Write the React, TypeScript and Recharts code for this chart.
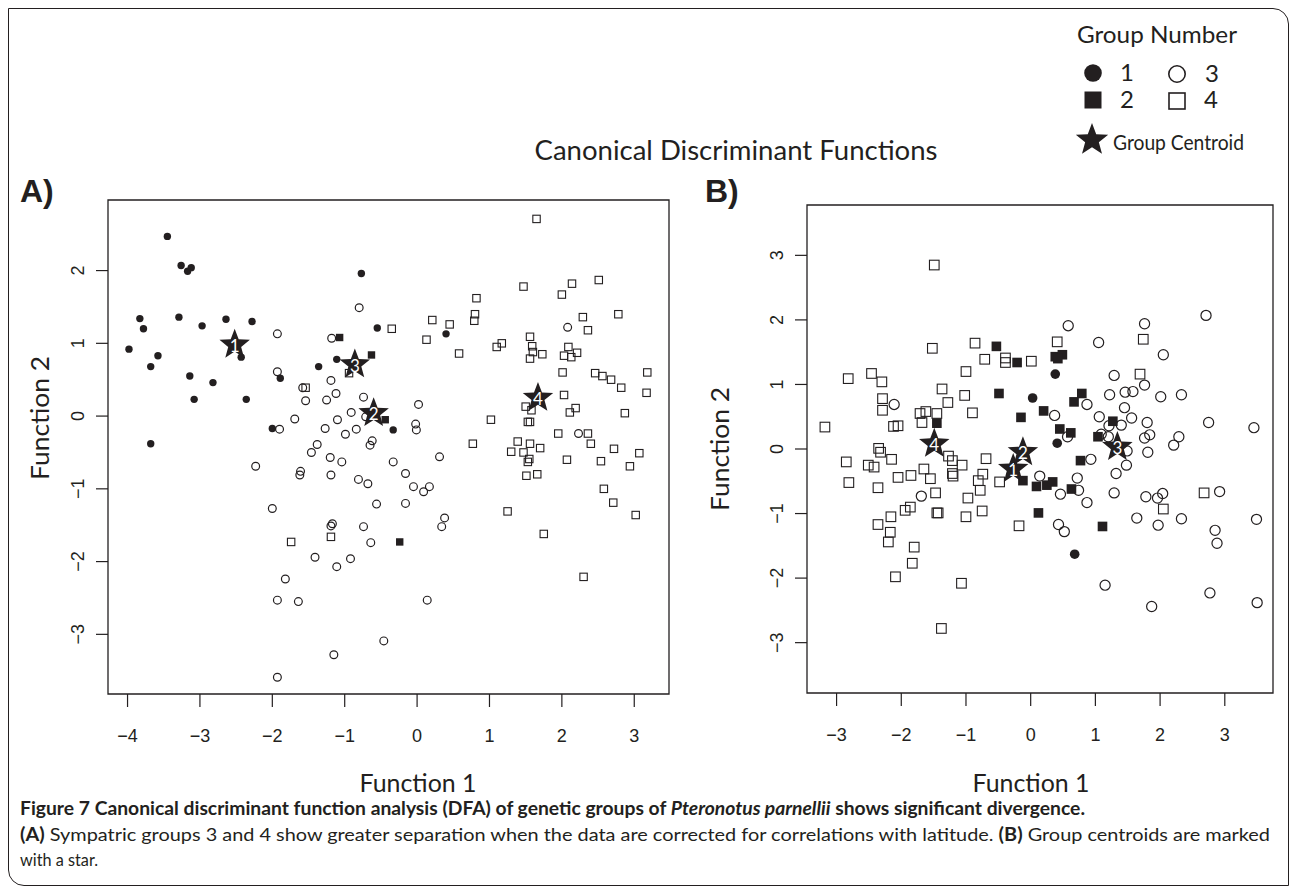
import { ScatterChart, Scatter, XAxis, YAxis, ReferenceArea } from 'recharts'

const INK = '#231f20'
const TICK_FONT = '"Liberation Sans", Arial, Helvetica, sans-serif'
const LABEL_FONT = 'Lato, "Open Sans", sans-serif'

type Pt = [number, number]
type Star = [number, number, string]

// ---- panel A (corrected for latitude) ----
const aTicksX = [-4, -3, -2, -1, 0, 1, 2, 3]
const aTicksY = [-3, -2, -1, 0, 1, 2]

const aGroup1: Pt[] = [
  [-3.45, 2.47], [-3.26, 2.07], [-3.17, 1.99], [-3.12, 2.04], [-3.83, 1.34], [-3.78, 1.2],
  [-3.98, 0.92], [-3.58, 0.83], [-3.68, 0.68], [-3.29, 1.36], [-2.97, 1.24], [-2.64, 1.33],
  [-2.28, 1.3], [-2.43, 0.81], [-3.14, 0.55], [-2.82, 0.46], [-3.08, 0.23], [-2.36, 0.23],
  [-1.89, 0.52], [-1.36, 0.68], [-1.11, 0.78], [-0.77, 1.96], [-0.55, 1.21], [-2.0, -0.17],
  [-3.68, -0.38], [0.4, 1.13], [-0.33, -0.19],
]

const aGroup2: Pt[] = [[-1.07, 1.08], [-0.63, 0.84], [-0.44, -0.05], [-0.24, -1.73]]

const aGroup3: Pt[] = [
  [-1.93, 1.13], [-0.8, 1.49], [-1.18, 1.07], [-1.93, 0.61], [-1.19, 0.49], [-1.58, 0.39],
  [-1.12, 0.31], [-1.54, 0.21], [-1.25, 0.22], [-0.74, 0.26], [-0.91, 0.05], [-1.1, -0.05],
  [-1.69, -0.04], [-1.27, -0.17], [-1.9, -0.18], [-0.99, -0.25], [-0.84, -0.18], [-0.71, -0.01],
  [-0.62, -0.34], [-0.65, -0.4], [-1.38, -0.39], [-1.46, -0.5], [-1.2, -0.57], [-1.04, -0.63],
  [-2.23, -0.69], [-1.61, -0.76], [-1.62, -0.81], [-1.19, -0.81], [-0.81, -0.87], [-0.68, -0.93],
  [-0.56, -1.21], [-2.0, -1.27], [-1.17, -1.48], [-1.19, -1.51], [-0.74, -1.52], [-0.64, -1.74],
  [-1.41, -1.94], [-1.11, -2.07], [-0.92, -1.96], [-1.82, -2.24], [-1.93, -2.53], [-1.64, -2.55],
  [-0.46, -3.09], [-1.15, -3.28], [-1.93, -3.59], [0.02, 0.16], [-0.02, -0.11], [-0.01, -0.19],
  [2.08, 1.22], [2.23, -0.24], [-0.33, -0.63], [0.31, -0.56], [-0.16, -0.79], [-0.05, -0.97],
  [0.17, -0.97], [0.09, -1.04], [-0.16, -1.2], [0.38, -1.4], [0.34, -1.52], [0.14, -2.53],
]

const aGroup4: Pt[] = [
  [-1.54, 0.39], [-0.94, 0.59], [-1.74, -1.73], [-1.19, -1.66], [1.65, 2.71], [-0.35, 1.2],
  [0.21, 1.32], [0.45, 1.26], [0.13, 1.05], [0.58, 0.86], [0.82, 1.62], [0.8, 1.4], [0.79, 1.31],
  [1.47, 1.78], [2.14, 1.82], [2.0, 1.67], [2.51, 1.87], [2.29, 1.36], [2.78, 1.4], [2.36, 1.18],
  [1.17, 1.0], [1.1, 0.95], [1.56, 1.09], [1.59, 0.96], [1.73, 0.85], [1.56, 0.79], [1.6, 0.88],
  [2.09, 0.95], [2.21, 0.87], [2.13, 0.81], [2.03, 0.83], [2.01, 0.6], [2.46, 0.59], [2.56, 0.55],
  [2.68, 0.5], [2.82, 0.39], [3.18, 0.6], [3.17, 0.32], [2.03, 0.29], [2.19, 0.11], [2.11, 0.05],
  [2.87, 0.04], [1.5, 0.13], [1.58, 0.08], [1.02, -0.05], [1.53, -0.08], [1.56, -0.08],
  [1.95, -0.24], [2.36, -0.24], [2.4, -0.38], [2.72, -0.45], [3.07, -0.51], [2.94, -0.69],
  [2.54, -0.62], [2.07, -0.6], [0.77, -0.38], [1.39, -0.35], [1.56, -0.38], [1.7, -0.44],
  [1.3, -0.49], [1.47, -0.5], [1.55, -0.59], [1.53, -0.63], [1.51, -0.82], [1.66, -0.8],
  [2.58, -1.0], [2.71, -1.19], [3.02, -1.36], [1.25, -1.31], [1.75, -1.62], [2.3, -2.21],
]

const aCentroids: Star[] = [[-2.52, 0.98, '1'], [-0.6, 0.04, '2'], [-0.86, 0.71, '3'], [1.67, 0.25, '4']]

// ---- panel B ----
const bTicksX = [-3, -2, -1, 0, 1, 2, 3]
const bTicksY = [-3, -2, -1, 0, 1, 2, 3]

const bGroup1: Pt[] = [[0.03, 0.79], [0.38, 1.16], [0.41, 0.09], [0.68, -1.63]]

const bGroup2: Pt[] = [
  [-0.53, 1.59], [-0.21, 1.34], [-0.49, 0.86], [-0.15, 0.49], [-1.45, 0.4], [-0.12, -0.49],
  [0.09, -0.58], [0.12, -0.99], [0.38, 1.43], [0.49, 1.46], [0.42, 1.4], [0.79, 0.86], [0.67, 0.73],
  [0.2, 0.59], [1.27, 0.43], [0.45, 0.31], [0.62, 0.25], [1.04, 0.19], [0.77, -0.18], [0.25, -0.56],
  [0.34, -0.51], [0.63, -0.62], [1.11, -1.2],
]

const bGroup3: Pt[] = [
  [-2.11, 0.69], [-1.69, -0.73], [0.58, 1.91], [1.76, 1.94], [2.71, 2.07], [1.05, 1.65], [2.05, 1.46],
  [1.29, 1.14], [1.76, 0.99], [1.22, 0.84], [1.46, 0.88], [1.58, 0.89], [2.01, 0.81], [2.33, 0.84],
  [0.87, 0.69], [1.45, 0.64], [0.37, 0.52], [1.06, 0.5], [1.56, 0.48], [1.4, 0.37], [1.21, 0.36],
  [1.8, 0.41], [2.75, 0.41], [3.45, 0.33], [1.09, 0.23], [1.2, 0.19], [1.76, 0.17], [1.84, 0.22],
  [2.29, 0.19], [2.21, 0.06], [1.81, -0.05], [1.49, -0.03], [1.48, -0.25], [1.32, -0.38],
  [0.93, -0.16], [0.72, -0.45], [0.74, -0.64], [0.14, -0.42], [0.46, -0.7], [0.87, -0.83],
  [1.29, -0.68], [1.78, -0.74], [1.96, -0.76], [2.04, -0.69], [2.92, -0.66], [1.64, -1.07],
  [1.97, -1.18], [2.33, -1.08], [3.49, -1.09], [2.85, -1.26], [2.88, -1.46], [0.43, -1.17],
  [0.52, -1.28], [1.15, -2.11], [1.87, -2.44], [2.77, -2.23], [3.5, -2.38], [0.57, 0.19],
]

const bGroup4: Pt[] = [
  [-1.49, 2.85], [-1.52, 1.56], [-0.86, 1.64], [-0.71, 1.39], [-0.39, 1.41], [-0.39, 1.34],
  [0.01, 1.36], [-1.0, 1.2], [-2.82, 1.09], [-2.46, 1.17], [-2.3, 1.04], [-1.37, 0.93], [-1.02, 0.83],
  [-2.29, 0.78], [-2.29, 0.6], [-1.28, 0.72], [-0.9, 0.56], [-1.71, 0.55], [-1.62, 0.58],
  [-1.45, 0.55], [-1.68, 0.41], [-3.18, 0.34], [-2.12, 0.35], [-2.05, 0.36], [-2.35, 0.01],
  [-2.32, -0.05], [-2.85, -0.2], [-2.51, -0.25], [-2.42, -0.28], [-2.15, -0.16], [-2.81, -0.52],
  [-2.36, -0.6], [-2.05, -0.44], [-1.85, -0.41], [-1.65, -0.31], [-1.55, -0.46], [-1.27, -0.11],
  [-1.21, -0.18], [-1.06, -0.25], [-1.21, -0.38], [-1.2, -0.42], [-0.69, -0.15], [-0.74, -0.39],
  [-0.81, -0.49], [-0.78, -0.64], [-0.48, -0.51], [-1.47, -0.68], [-0.97, -0.76], [-1.0, -1.05],
  [-0.75, -0.96], [-1.45, -0.99], [-1.43, -0.99], [-1.94, -0.95], [-1.86, -0.9], [-2.16, -1.05],
  [-2.36, -1.17], [-2.17, -1.29], [-2.2, -1.44], [-1.8, -1.52], [-1.83, -1.77], [-2.09, -1.98],
  [-1.07, -2.08], [-1.38, -2.78], [-0.18, -1.19], [0.41, 1.66], [1.74, 1.7], [1.69, 1.16],
  [2.68, -0.68], [2.05, -0.93],
]

const bCentroids: Star[] = [[-0.27, -0.31, '1'], [-0.12, -0.05, '2'], [1.34, 0.03, '3'], [-1.49, 0.08, '4']]

const rows = (pts: Pt[]) => pts.map(([x, y]) => ({ x, y }))
const starRows = (pts: Star[]) => pts.map(([x, y, label]) => ({ x, y, label }))

const fmt = (v: number) => (v < 0 ? '\u2212' + Math.abs(v) : String(v))

function starPoints(cx: number, cy: number, R: number, r: number) {
  const pts: string[] = []
  for (let i = 0; i < 10; i++) {
    const a = -Math.PI / 2 + (i * Math.PI) / 5
    const rad = i % 2 === 0 ? R : r
    pts.push(`${(cx + rad * Math.cos(a)).toFixed(2)},${(cy + rad * Math.sin(a)).toFixed(2)}`)
  }
  return pts.join(' ')
}

const dot = (r: number) => (p: any) => <circle cx={p.cx} cy={p.cy} r={r} fill={INK} />
const ring = (r: number, w: number) => (p: any) => (
  <circle cx={p.cx} cy={p.cy} r={r} fill="none" stroke={INK} strokeWidth={w} />
)
const block = (s: number) => (p: any) => (
  <rect x={p.cx - s / 2} y={p.cy - s / 2} width={s} height={s} fill={INK} />
)
const square = (s: number, w: number) => (p: any) => (
  <rect x={p.cx - s / 2} y={p.cy - s / 2} width={s} height={s} fill="none" stroke={INK} strokeWidth={w} />
)
const centroid = (p: any) => (
  <g>
    <polygon points={starPoints(p.cx, p.cy, 16, 6.8)} fill={INK} />
    <text x={p.cx} y={p.cy + 1} dy="0.36em" textAnchor="middle" fill="#fff" fontFamily={LABEL_FONT} fontSize={17}>
      {p.payload.label}
    </text>
  </g>
)

function XTick(props: any) {
  const { x, y, payload } = props
  return (
    <text x={x} y={y} dy="0.71em" textAnchor="middle" fontFamily={TICK_FONT} fontSize={18} fill={INK}>
      {fmt(payload.value)}
    </text>
  )
}

function YTick(props: any) {
  const { x, y, payload } = props
  return (
    <text x={x} y={y} transform={`rotate(-90 ${x} ${y})`} textAnchor="middle" fontFamily={TICK_FONT} fontSize={18} fill={INK}>
      {fmt(payload.value)}
    </text>
  )
}

interface PanelProps {
  width: number
  margin: { top: number; right: number; bottom: number; left: number }
  xDomain: [number, number]
  yDomain: [number, number]
  xTicks: number[]
  yTicks: number[]
  g1: Pt[]
  g2: Pt[]
  g3: Pt[]
  g4: Pt[]
  stars: Star[]
  big?: boolean
}

function Panel({ width, margin, xDomain, yDomain, xTicks, yTicks, g1, g2, g3, g4, stars, big }: PanelProps) {
  const k = big ? 1.3 : 1
  return (
    <ScatterChart width={width} height={800} margin={margin}>
      <XAxis
        type="number"
        dataKey="x"
        domain={xDomain}
        allowDataOverflow
        ticks={xTicks}
        interval={0}
        height={60}
        axisLine={false}
        tickSize={13}
        tickMargin={22}
        tickLine={{ stroke: INK, strokeWidth: 1.2 }}
        tick={XTick}
      />
      <YAxis
        type="number"
        dataKey="y"
        domain={yDomain}
        allowDataOverflow
        ticks={yTicks}
        interval={0}
        width={60}
        axisLine={false}
        tickSize={12}
        tickMargin={12}
        tickLine={{ stroke: INK, strokeWidth: 1.2 }}
        tick={YTick}
      />
      <ReferenceArea
        x1={xDomain[0]}
        x2={xDomain[1]}
        y1={yDomain[0]}
        y2={yDomain[1]}
        fill="none"
        stroke={INK}
        strokeWidth={1.3}
        ifOverflow="visible"
      />
      <Scatter data={rows(g4)} shape={square(7.4 * k, 1.1)} isAnimationActive={false} />
      <Scatter data={rows(g3)} shape={ring(3.9 * k, 1.2)} isAnimationActive={false} />
      <Scatter data={rows(g2)} shape={block(7.4 * k)} isAnimationActive={false} />
      <Scatter data={rows(g1)} shape={dot(3.7 * k)} isAnimationActive={false} />
      <Scatter data={starRows(stars)} shape={centroid} isAnimationActive={false} />
    </ScatterChart>
  )
}

export default function App() {
  return (
    <div style={{ position: 'absolute', left: 0, top: 0, width: 1290, height: 890, background: '#fff', overflow: 'hidden' }}>
      <div
        style={{
          position: 'absolute',
          left: 8,
          top: 8,
          width: 1281,
          height: 878,
          border: `1.5px solid ${INK}`,
          borderRadius: '0 16px 0 16px',
          boxSizing: 'border-box',
        }}
      />

      <div style={{ position: 'absolute', left: 0, top: 0 }}>
        <Panel
          width={700}
          margin={{ top: 200, right: 31, bottom: 46, left: 48 }}
          xDomain={[-4.27, 3.48]}
          yDomain={[-3.82, 2.97]}
          xTicks={aTicksX}
          yTicks={aTicksY}
          g1={aGroup1}
          g2={aGroup2}
          g3={aGroup3}
          g4={aGroup4}
          stars={aCentroids}
        />
      </div>

      <div style={{ position: 'absolute', left: 700, top: 0 }}>
        <Panel
          width={590}
          margin={{ top: 205, right: 17, bottom: 47, left: 47 }}
          xDomain={[-3.457, 3.745]}
          yDomain={[-3.78, 3.78]}
          xTicks={bTicksX}
          yTicks={bTicksY}
          g1={bGroup1}
          g2={bGroup2}
          g3={bGroup3}
          g4={bGroup4}
          stars={bCentroids}
          big
        />
      </div>

      <svg width={1290} height={890} style={{ position: 'absolute', left: 0, top: 0, pointerEvents: 'none' }}>
        <g fontFamily={LABEL_FONT} fill={INK}>
          <text x={1157} y={43} textAnchor="middle" fontSize={23} textLength={160} lengthAdjust="spacingAndGlyphs">
            Group Number
          </text>
          <circle cx={1093} cy={73} r={8.8} fill={INK} />
          <text x={1127} y={81} textAnchor="middle" fontSize={24}>1</text>
          <circle cx={1177} cy={74} r={8.2} fill="none" stroke={INK} strokeWidth={1.6} />
          <text x={1212} y={82} textAnchor="middle" fontSize={24}>3</text>
          <rect x={1084.5} y={91.5} width={17} height={17} fill={INK} />
          <text x={1127} y={108} textAnchor="middle" fontSize={24}>2</text>
          <rect x={1169} y={93} width={16} height={16} fill="none" stroke={INK} strokeWidth={1.6} />
          <text x={1211} y={108} textAnchor="middle" fontSize={24}>4</text>
          <polygon points={starPoints(1092, 140, 17, 7.2)} fill={INK} />
          <text x={1113} y={150} fontSize={21} textLength={131} lengthAdjust="spacingAndGlyphs">
            Group Centroid
          </text>

          <text x={736} y={160} textAnchor="middle" fontSize={26} textLength={403} lengthAdjust="spacingAndGlyphs">
            Canonical Discriminant Functions
          </text>

          <text x={418} y={792} textAnchor="middle" fontSize={25} textLength={117} lengthAdjust="spacingAndGlyphs">
            Function 1
          </text>
          <text x={1031} y={792} textAnchor="middle" fontSize={25} textLength={117} lengthAdjust="spacingAndGlyphs">
            Function 1
          </text>
          <text transform="translate(49 418) rotate(-90)" textAnchor="middle" fontSize={25} textLength={124} lengthAdjust="spacingAndGlyphs">
            Function 2
          </text>
          <text transform="translate(729 449) rotate(-90)" textAnchor="middle" fontSize={25} textLength={124} lengthAdjust="spacingAndGlyphs">
            Function 2
          </text>
        </g>
        <g fontFamily={TICK_FONT} fontWeight="bold" fill={INK} fontSize={32}>
          <text x={20} y={202}>A)</text>
          <text x={705} y={202}>B)</text>
        </g>

        <g fontFamily={LABEL_FONT} fill={INK} fontSize={18}>
          <text x={20} y={815} fontWeight="bold" textLength={1065} lengthAdjust="spacingAndGlyphs">
            Figure 7 Canonical discriminant function analysis (DFA) of genetic groups of{' '}
            <tspan fontStyle="italic">Pteronotus parnellii</tspan> shows significant divergence.
          </text>
          <text x={20} y={841} textLength={1250} lengthAdjust="spacingAndGlyphs">
            <tspan fontWeight="bold">(A)</tspan> Sympatric groups 3 and 4 show greater separation when the data are
            corrected for correlations with latitude. <tspan fontWeight="bold">(B)</tspan> Group centroids are marked
          </text>
          <text x={20} y={866} textLength={78} lengthAdjust="spacingAndGlyphs">
            with a star.
          </text>
        </g>
      </svg>
    </div>
  )
}
